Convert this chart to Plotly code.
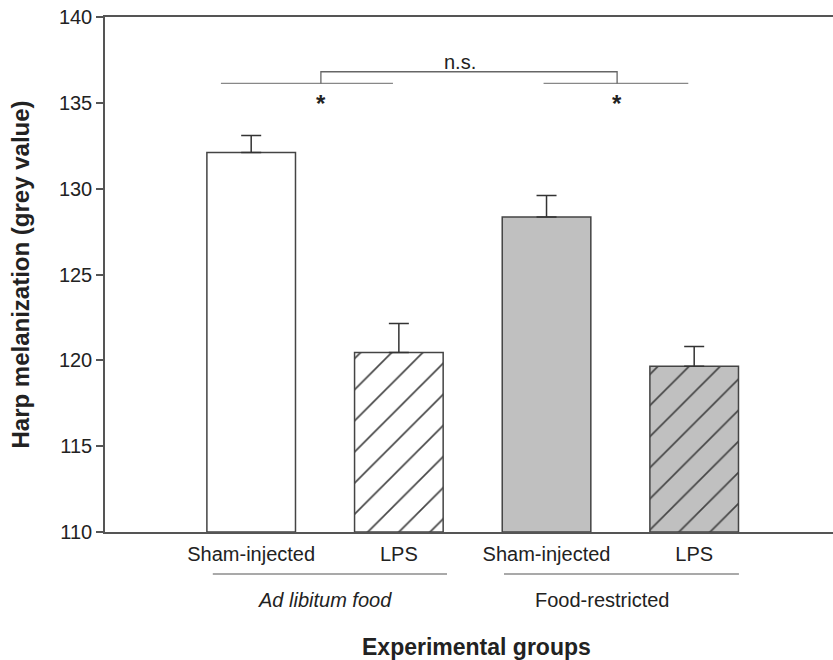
import plotly.graph_objects as go

# ---- data ----
categories = ["Sham-injected", "LPS", "Sham-injected", "LPS"]
groups = ["Ad libitum food", "Food-restricted"]
means = [132.1, 120.45, 128.35, 119.65]
sem = [1.0, 1.7, 1.25, 1.15]
y_ticks = [110, 115, 120, 125, 130, 135, 140]

positions = list(range(len(categories)))
FONT = "Liberation Sans, Arial, sans-serif"
INK = "#222222"
EDGE = "#444444"

fig = go.Figure()
fig.add_trace(go.Bar(
    x=positions,
    y=[m - 110 for m in means],
    base=110,
    width=0.6,
    marker=dict(
        color=["white", "white", "#c0c0c0", "#c0c0c0"],
        line=dict(color=EDGE, width=1.5),
        pattern=dict(shape=["", "/", "", "/"], size=22, solidity=0.075,
                     fgcolor=["#2a2a2a"] * 4, fgopacity=1,
                     fillmode="overlay"),
    ),
    error_y=dict(type="data", array=sem, arrayminus=[0] * 4, symmetric=False,
                 color="#333333", thickness=1.5, width=10),
    showlegend=False,
))

fig.update_layout(
    width=833, height=660,
    margin=dict(l=105, r=0, t=17, b=128),
    plot_bgcolor="white", paper_bgcolor="white",
    font=dict(family=FONT, size=20, color=INK),
    bargap=0.4,
)
fig.update_xaxes(
    range=[-0.99, 3.94], tickvals=positions, ticktext=categories,
    showline=True, linecolor="#555555", linewidth=1.5, mirror=True,
    ticks="", showgrid=False, zeroline=False,
    tickfont=dict(size=20, color=INK), ticklabelstandoff=3,
)
fig.update_yaxes(
    range=[110, 140], tickvals=y_ticks,
    showline=True, linecolor="#555555", linewidth=1.5, mirror=False,
    ticks="outside", ticklen=7, tickcolor="#555555", tickwidth=1.5,
    showgrid=False, zeroline=False, tickfont=dict(size=20, color=INK),
    title=dict(text="<b>Harp melanization (grey value)</b>",
               font=dict(size=24, color=INK), standoff=22),
)

# group bracket lines below axis
group_lines = [(-0.26, 1.326), (1.712, 3.303)]
for x0, x1 in group_lines:
    fig.add_shape(type="line", xref="x", yref="paper", x0=x0, x1=x1,
                  y0=-0.0816, y1=-0.0816, line=dict(color="#555555", width=1.2))
fig.add_annotation(x=0.5, y=-0.132, xref="x", yref="paper", showarrow=False,
                   text="<i>" + groups[0] + "</i>", font=dict(size=20, color=INK),
                   yanchor="middle")
fig.add_annotation(x=2.38, y=-0.132, xref="x", yref="paper", showarrow=False,
                   text=groups[1], font=dict(size=20, color=INK), yanchor="middle")
fig.add_annotation(x=0.51, y=-0.223, xref="paper", yref="paper", showarrow=False,
                   text="<b>Experimental groups</b>", font=dict(size=23, color=INK),
                   yanchor="middle")

# significance markings
sig_y = 136.13
bracket_y = 136.81
for x0, x1 in [(-0.205, 0.96), (1.98, 2.96)]:
    fig.add_shape(type="line", xref="x", yref="y", x0=x0, x1=x1, y0=sig_y, y1=sig_y,
                  line=dict(color="#888888", width=1.3))
fig.add_shape(type="path", xref="x", yref="y",
              path=f"M 0.472 {sig_y} L 0.472 {bracket_y} L 2.478 {bracket_y} L 2.478 {sig_y}",
              line=dict(color="#666666", width=1.3))
fig.add_annotation(x=1.413, y=137.37, xref="x", yref="y", showarrow=False,
                   text="n.s.", font=dict(size=20, color=INK), yanchor="middle")
for xs in [0.472, 2.478]:
    fig.add_annotation(x=xs, y=134.95, xref="x", yref="y", showarrow=False,
                       text="<b>*</b>", font=dict(size=24, color=INK), yanchor="middle")

fig.write_html("out.html")
